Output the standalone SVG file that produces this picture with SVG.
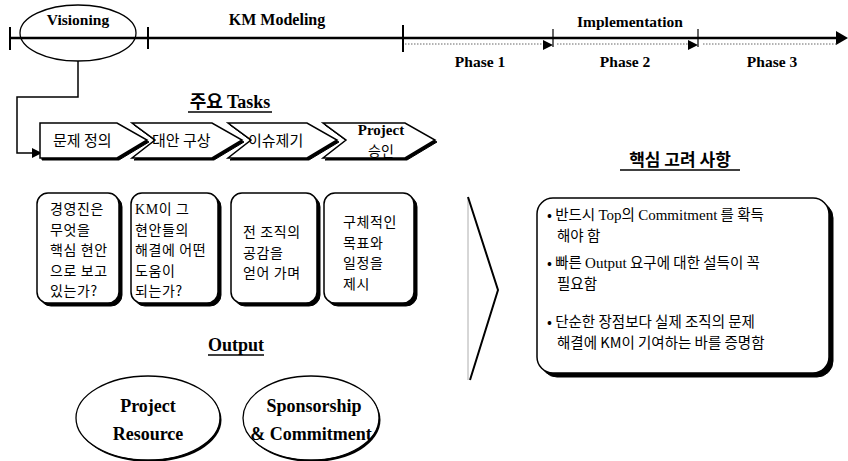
<svg xmlns="http://www.w3.org/2000/svg" width="848" height="461" viewBox="0 0 848 461">
<defs>
<style>
.ser{font-family:"Liberation Serif","Times New Roman",serif;font-weight:bold;fill:#000}
.serr{font-family:"Liberation Serif","Times New Roman",serif;fill:#000}
.kr{font-family:"Noto Sans CJK KR","Noto Sans",sans-serif;fill:#000}
.krb{font-family:"Noto Sans CJK KR","Noto Sans",sans-serif;font-weight:bold;fill:#000}
.bt{font-family:"Noto Sans CJK KR","Noto Sans",sans-serif;fill:#000;font-size:14px;letter-spacing:0.6px}
.ln{stroke:#000;fill:none}
.sh{fill:#000;stroke:#000;stroke-width:1}
.bx{fill:#fff;stroke:#000;stroke-width:1.5}
.dot{stroke:#666;stroke-width:1;stroke-dasharray:1.5 1.5;fill:none}
</style>
</defs>
<rect width="848" height="461" fill="#fff"/>

<g id="timeline">
  <line class="ln" x1="10" y1="38" x2="838" y2="38" stroke-width="2.5"/>
  <polygon points="836,31 848,38 836,45" fill="#000"/>
  <line class="ln" x1="10" y1="27" x2="10" y2="50" stroke-width="2"/>
  <line class="ln" x1="148" y1="27" x2="148" y2="49" stroke-width="2"/>
  <line class="ln" x1="403" y1="25" x2="403" y2="52" stroke-width="2"/>
  <line class="dot" x1="405" y1="44" x2="543" y2="44"/>
  <line class="dot" x1="557" y1="44" x2="688" y2="44"/>
  <line class="dot" x1="703" y1="44" x2="838" y2="44"/>
  <line class="ln" x1="553" y1="29" x2="553" y2="47" stroke-width="1.2"/>
  <polygon points="543,40 553,45 543,50" fill="#000"/>
  <line class="ln" x1="698" y1="29" x2="698" y2="47" stroke-width="1.2"/>
  <polygon points="688,40 698,45 688,50" fill="#000"/>
  <text class="ser" x="277" y="25" font-size="16" text-anchor="middle">KM Modeling</text>
  <text class="ser" x="630" y="27" font-size="15.5" text-anchor="middle">Implementation</text>
  <text class="ser" x="480" y="67" font-size="15.5" text-anchor="middle">Phase 1</text>
  <text class="ser" x="625" y="67" font-size="15.5" text-anchor="middle">Phase 2</text>
  <text class="ser" x="772" y="67" font-size="15.5" text-anchor="middle">Phase 3</text>
</g>

<g id="visioning">
  <ellipse class="ln" cx="78" cy="33" rx="58" ry="28" stroke-width="1.3"/>
  <text class="ser" x="78" y="25" font-size="15.5" text-anchor="middle">Visioning</text>
</g>

<g id="connectors">
  <path class="ln" d="M78,61 V97 H17 V153 H33" stroke-width="1.5"/>
  <polygon points="32,148 42,153 32,158" fill="#000"/>
</g>

<g id="tasks-title">
  <text x="230" y="108" font-size="18" text-anchor="middle"><tspan class="krb">주요 </tspan><tspan class="ser">Tasks</tspan></text>
  <line class="ln" x1="188" y1="112" x2="272" y2="112" stroke-width="1.5"/>
</g>

<g id="task1">
  <polygon class="sh" points="42,125 119,125 149,142 119,160 42,160"/>
  <polygon class="bx" points="40,123 117,123 147,140 117,158 40,158"/>
  <text class="kr" x="53" y="146" font-size="15">문제 정의</text>
</g>
<g id="task2">
  <polygon class="sh" points="134,125 214,125 244,142 214,160 134,160 157,142"/>
  <polygon class="bx" points="132,123 212,123 242,140 212,158 132,158 155,140"/>
  <text class="kr" x="152" y="146" font-size="15">대안 구상</text>
</g>
<g id="task3">
  <polygon class="sh" points="230,125 309,125 339,142 309,160 230,160 253,142"/>
  <polygon class="bx" points="228,123 307,123 337,140 307,158 228,158 251,140"/>
  <text class="kr" x="248" y="146" font-size="15">이슈제기</text>
</g>
<g id="task4">
  <polygon class="sh" points="325,125 407,125 437,142 407,160 325,160 348,142"/>
  <polygon class="bx" points="323,123 405,123 435,140 405,158 323,158 346,140"/>
  <text class="ser" x="381" y="135" font-size="15" text-anchor="middle">Project</text>
  <text class="kr" x="381" y="156" font-size="14" text-anchor="middle">승인</text>
</g>

<g id="box1">
  <rect class="sh" x="40" y="196" width="82" height="110" rx="11"/>
  <rect class="bx" x="37" y="193" width="82" height="110" rx="11"/>
  <text class="bt"><tspan x="50" y="214">경영진은</tspan><tspan x="50" y="234.5">무엇을</tspan><tspan x="50" y="255">핵심 현안</tspan><tspan x="50" y="275.5">으로 보고</tspan><tspan x="50" y="296">있는가?</tspan></text>
</g>
<g id="box2">
  <rect class="sh" x="134" y="196" width="87" height="110" rx="11"/>
  <rect class="bx" x="131" y="193" width="87" height="110" rx="11"/>
  <text class="bt"><tspan x="135" y="214"><tspan class="serr">KM</tspan>이 그</tspan><tspan x="135" y="234.5">현안들의</tspan><tspan x="135" y="255">해결에 어떤</tspan><tspan x="135" y="275.5">도움이</tspan><tspan x="135" y="296">되는가?</tspan></text>
</g>
<g id="box3">
  <rect class="sh" x="234" y="196" width="86" height="110" rx="11"/>
  <rect class="bx" x="231" y="193" width="86" height="110" rx="11"/>
  <text class="bt"><tspan x="243" y="237">전 조직의</tspan><tspan x="243" y="257.5">공감을</tspan><tspan x="243" y="278">얻어 가며</tspan></text>
</g>
<g id="box4">
  <rect class="sh" x="327" y="196" width="90" height="110" rx="11"/>
  <rect class="bx" x="324" y="193" width="90" height="110" rx="11"/>
  <text class="bt"><tspan x="343" y="227">구체적인</tspan><tspan x="343" y="247.5">목표와</tspan><tspan x="343" y="268">일정을</tspan><tspan x="343" y="288.5">제시</tspan></text>
</g>

<g id="big-chevron">
  <line x1="468" y1="197" x2="468" y2="380" stroke="#999" stroke-width="0.8"/>
  <polyline class="ln" points="468,197 498,290 470,380" stroke-width="2"/>
</g>

<g id="key-title">
  <text class="krb" x="680" y="166" font-size="17" text-anchor="middle">핵심 고려 사항</text>
  <line class="ln" x1="620" y1="170" x2="740" y2="170" stroke-width="1.5"/>
</g>

<g id="key-box">
  <rect class="sh" x="541" y="202" width="292" height="175" rx="16"/>
  <rect class="bx" x="537" y="198" width="292" height="175" rx="16"/>
  <text class="kr" font-size="14.5">
    <tspan x="547" y="220">• 반드시 <tspan class="serr" font-size="15">Top</tspan>의 <tspan class="serr" font-size="15">Commitment</tspan> 를 확득</tspan>
    <tspan x="557" y="241">해야 함</tspan>
    <tspan x="547" y="268">• 빠른 <tspan class="serr" font-size="15">Output</tspan> 요구에 대한 설득이 꼭</tspan>
    <tspan x="557" y="289">필요함</tspan>
    <tspan x="547" y="327">• 단순한 장점보다 실제 조직의 문제</tspan>
    <tspan x="557" y="348">해결에 KM이 기여하는 바를 증명함</tspan>
  </text>
</g>

<g id="output-title">
  <text class="ser" x="236" y="351" font-size="18" text-anchor="middle">Output</text>
  <line class="ln" x1="208" y1="355" x2="264" y2="355" stroke-width="1.5"/>
</g>

<g id="out1">
  <ellipse cx="149.5" cy="420" rx="72" ry="42" fill="#000"/>
  <ellipse cx="148" cy="418" rx="72" ry="42" fill="#fff" stroke="#000" stroke-width="1.3"/>
  <text class="ser" x="148" y="412" font-size="18" text-anchor="middle">Project</text>
  <text class="ser" x="148" y="440" font-size="18" text-anchor="middle">Resource</text>
</g>
<g id="out2">
  <ellipse cx="312.5" cy="420" rx="68" ry="42" fill="#000"/>
  <ellipse cx="311" cy="418" rx="68" ry="42" fill="#fff" stroke="#000" stroke-width="1.3"/>
  <text class="ser" x="314" y="412" font-size="18" text-anchor="middle">Sponsorship</text>
  <text class="ser" x="311" y="440" font-size="18" text-anchor="middle">&amp; Commitment</text>
</g>
</svg>
